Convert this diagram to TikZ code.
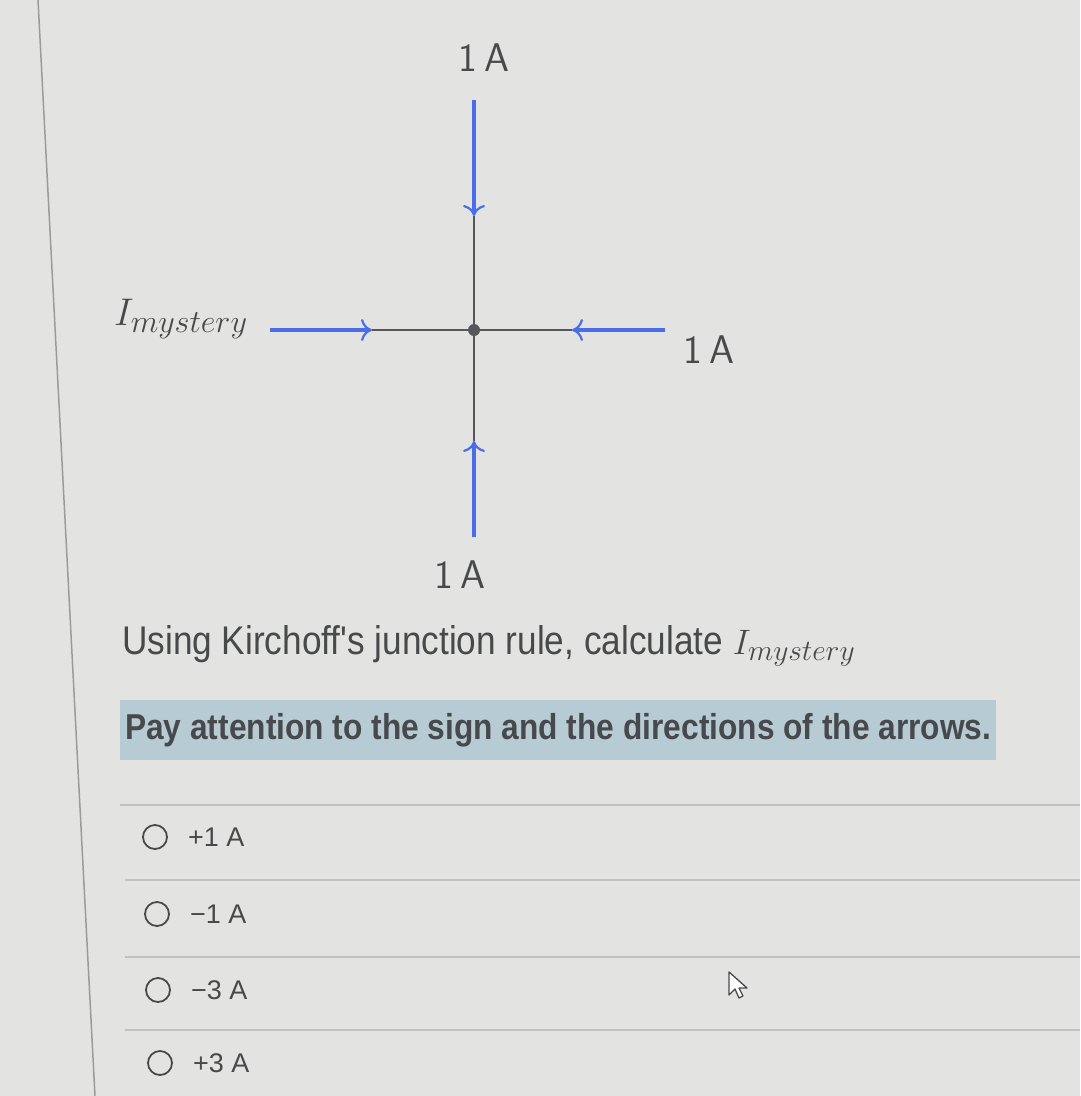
\documentclass[tikz,border=0pt]{standalone}
\usepackage{graphicx}
\usepackage{fontspec}
\setmainfont{Liberation Sans}
\setsansfont{Latin Modern Sans}
\newfontfamily\qfont[FakeStretch=0.88]{Liberation Sans}
\usetikzlibrary{arrows.meta}
\definecolor{bg}{HTML}{E3E4E1}
\definecolor{wireblue}{HTML}{4A6EEA}
\definecolor{wiregray}{HTML}{55575A}
\definecolor{hl}{HTML}{B7CBD4}
\definecolor{txt}{HTML}{48494B}
\definecolor{sep}{HTML}{C2C3C1}
\newcommand{\myst}[1]{\scalebox{#1}{\fontsize{24.88}{30}\selectfont$I_{mystery}$}}
\tikzset{
  blue arrow/.style={draw=wireblue,line width=3.2pt,-{To[length=11pt,width=22pt,line width=2.2pt]}},
  wire/.style={draw=wiregray,line width=2.2pt},
  amp/.style={text=txt,font=\sffamily\fontsize{40}{46}\selectfont,inner sep=0pt},
  question/.style={text=txt,anchor=west,inner sep=0pt,font=\qfont\fontsize{40}{46}\selectfont},
  option/.style={text=txt,anchor=west,inner sep=0pt,font=\fontsize{27}{32}\selectfont},
  radio/.style={circle,draw=txt,line width=1.8pt,minimum size=24pt,inner sep=0pt},
  sepline/.style={draw=sep,line width=1.2pt}
}
\begin{document}
\begin{tikzpicture}[x=1pt,y=-1pt]
\useasboundingbox[fill=bg] (0,0) rectangle (1080,1096);
% page border
\draw[draw=sep!80!black,line width=1.5pt] (38,0) -- (95,1096);
% junction
\node[circle,fill=wiregray,minimum size=12pt,inner sep=0pt] (J) at (474,330) {};
\coordinate (topEnd) at (474,100);
\coordinate (topTip) at (474,216);
\coordinate (botEnd) at (474,537);
\coordinate (botTip) at (474,441);
\coordinate (leftEnd) at (270,330);
\coordinate (leftTip) at (372,330);
\coordinate (rightEnd) at (665,330);
\coordinate (rightTip) at (572,330);
\draw[wire] (topTip) -- (J) -- (botTip);
\draw[wire] (leftTip) -- (J) -- (rightTip);
\draw[blue arrow] (topEnd) -- (topTip);
\draw[blue arrow] (botEnd) -- (botTip);
\draw[blue arrow] (leftEnd) -- (leftTip);
\draw[blue arrow] (rightEnd) -- (rightTip);
% labels
\node[amp] (lTop) at (484,58) {1\,A};
\node[amp] (lRight) at (709,350) {1\,A};
\node[amp] (lBot) at (460,575) {1\,A};
\node[text=txt,inner sep=0pt] (lLeft) at (181,319) {\myst{1.55}};
% question
\node[question] (q1) at (122,646) {Using Kirchoff's junction rule, calculate \myst{1.42}};
\fill[hl] (120,700) rectangle (996,760);
\node[question,font=\qfont\bfseries\fontsize{36}{42}\selectfont] (q2) at (125,730) {Pay attention to the sign and the directions of the arrows.};
% separators
\draw[sepline] (120,805) -- (1080,805);
\draw[sepline] (125,880) -- (1080,880);
\draw[sepline] (125,957) -- (1080,957);
\draw[sepline] (125,1030) -- (1080,1030);
% options
\node[radio] (r1) at (155,837) {};
\node[option] (o1) at (r1.east) [xshift=20pt] {+1 A};
\node[radio] (r2) at (157,914) {};
\node[option] (o2) at (r2.east) [xshift=20pt] {\char"2212 1 A};
\node[radio] (r3) at (158,990) {};
\node[option] (o3) at (r3.east) [xshift=20pt] {\char"2212 3 A};
\node[radio] (r4) at (160,1063) {};
\node[option] (o4) at (r4.east) [xshift=20pt] {+3 A};
% cursor
\draw[draw=txt,fill=white,line width=1.3pt,line join=round]
  (729,972) -- (729,995) -- (735,989) -- (739,998) -- (743,996) -- (739,988) -- (747,988) -- cycle;
\end{tikzpicture}
\end{document}
